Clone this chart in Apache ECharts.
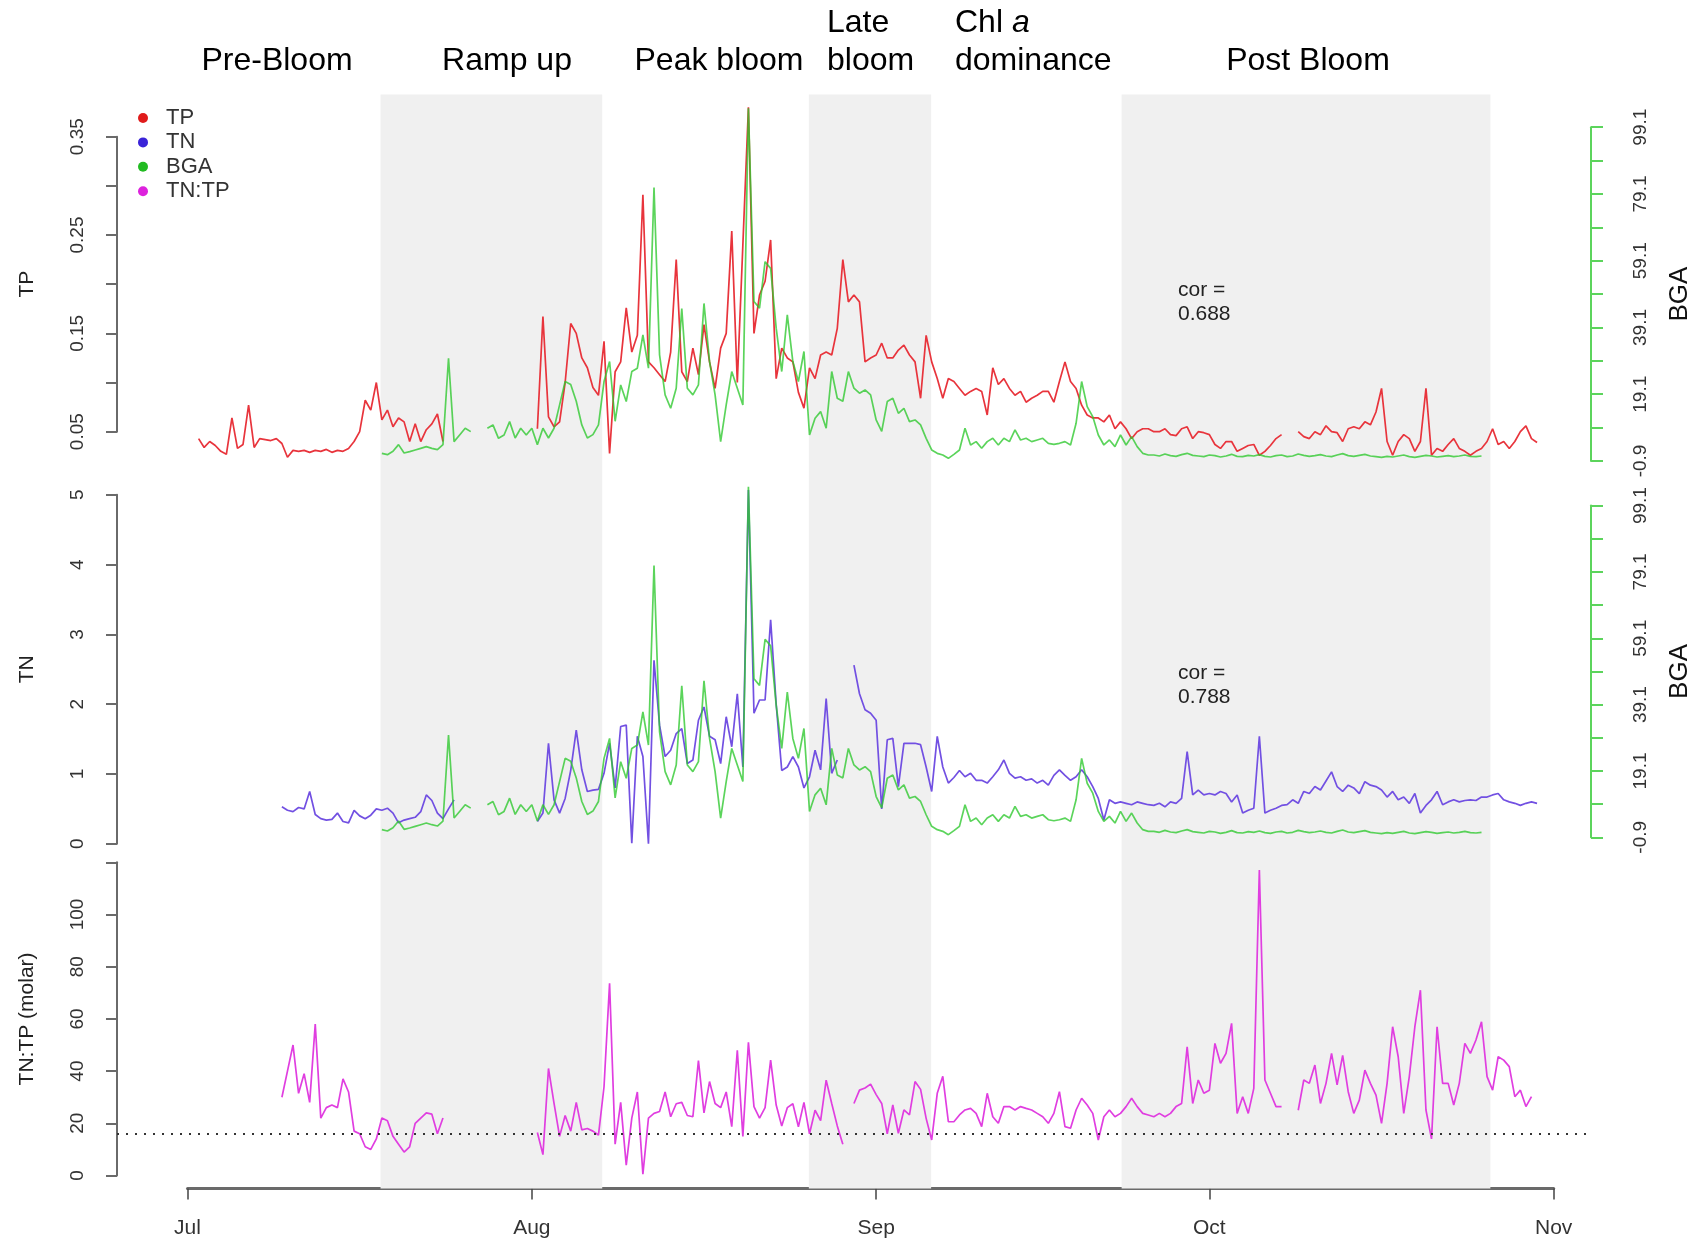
<!DOCTYPE html>
<html>
<head>
<meta charset="utf-8">
<script src="https://cdn.jsdelivr.net/npm/echarts@6/dist/echarts.min.js"></script>
<style>
  html, body { margin: 0; padding: 0; background: #ffffff; }
  #chart { width: 1705px; height: 1242px; }
</style>
</head>
<body>
<div id="chart"></div>
<script>
// ---------------------------------------------------------------
// Data: one value every 12 hours, x = days since 1 July (00:00).
// Each series starts at its *_START day; null marks a data gap.
// ---------------------------------------------------------------
const STEP_DAYS = 0.5;

const MONTH_TICKS = [0, 31, 62, 92, 123];
const MONTH_LABELS = ['Jul', 'Aug', 'Sep', 'Oct', 'Nov'];

// Bloom phases (day ranges that are shaded)
const SHADED_PERIODS = [[17.38, 37.34], [55.94, 66.95], [84.1, 117.3]];

// Total phosphorus
const TP_START = 1;
const TP = [
  0.043,0.034,0.040,0.036,0.030,0.027,0.064,0.033,0.037,0.077,
  0.034,0.043,0.042,0.041,0.043,0.038,0.024,0.031,0.030,0.031,
  0.029,0.031,0.030,0.032,0.029,0.031,0.030,0.033,0.040,0.050,
  0.082,0.072,0.100,0.062,0.072,0.055,0.064,0.060,0.040,0.058,
  0.040,0.052,0.058,0.068,0.040,null,null,null,null,null,
  null,null,null,null,null,null,null,null,null,null,
  null,0.053,0.167,0.065,0.055,0.060,0.100,0.160,0.150,0.125,
  0.115,0.095,0.087,0.142,0.028,0.111,0.121,0.176,0.131,0.148,
  0.291,0.121,0.115,0.108,0.101,0.131,0.225,0.111,0.101,0.135,
  0.108,0.159,0.121,0.094,0.135,0.150,0.254,0.100,0.240,0.380,
  0.150,0.189,0.203,0.245,0.104,0.135,0.125,0.121,0.090,0.074,
  0.115,0.104,0.128,0.131,0.128,0.155,0.225,0.182,0.189,0.182,
  0.121,0.125,0.128,0.140,0.125,0.125,0.133,0.138,0.128,0.121,
  0.084,0.148,0.121,0.104,0.084,0.104,0.101,0.094,0.087,0.091,
  0.094,0.091,0.067,0.115,0.098,0.104,0.094,0.087,0.091,0.080,
  0.084,0.087,0.091,0.091,0.080,0.101,0.121,0.101,0.094,0.077,
  0.067,0.064,0.064,0.060,0.067,0.053,0.060,0.053,0.043,0.050,
  0.053,0.053,0.050,0.050,0.053,0.047,0.046,0.053,0.055,0.043,
  0.050,0.049,0.047,0.037,0.033,0.040,0.040,0.030,0.033,0.036,
  0.037,0.026,0.030,0.036,0.043,0.047,null,null,0.050,0.045,
  0.043,0.050,0.047,0.056,0.050,0.049,0.040,0.053,0.055,0.053,
  0.060,0.057,0.070,0.094,0.040,0.026,0.040,0.047,0.043,0.030,
  0.040,0.094,0.026,0.033,0.030,0.037,0.043,0.033,0.030,0.026,
  0.030,0.033,0.040,0.053,0.037,0.040,0.033,0.040,0.050,0.056,
  0.043,0.039
];

// Total nitrogen
const TN_START = 8;
const TN = [
  null,0.53,0.48,0.46,0.52,0.50,0.75,0.42,0.36,0.34,
  0.35,0.44,0.32,0.30,0.48,0.40,0.36,0.41,0.50,0.48,
  0.51,0.44,0.30,0.34,0.36,0.38,0.46,0.70,0.62,0.44,
  0.36,0.50,0.63,null,null,null,null,null,null,null,
  null,null,null,null,null,null,null,0.32,0.44,1.44,
  0.63,0.44,0.65,1.05,1.63,1.06,0.75,0.77,0.78,1.01,
  1.44,0.80,1.68,1.70,0.01,1.54,1.25,0.00,2.63,1.70,
  1.25,1.34,1.58,1.65,1.15,1.20,1.77,1.96,1.54,1.49,
  1.15,1.82,1.39,2.15,1.10,5.07,1.87,2.06,2.06,3.21,
  2.00,1.05,1.10,1.25,1.10,0.80,0.96,1.34,1.06,2.08,
  1.01,1.20,null,null,2.56,2.15,1.92,1.87,1.77,0.50,
  1.49,1.51,0.82,1.44,1.44,1.44,1.42,1.10,0.75,1.54,
  1.10,0.87,0.95,1.05,0.96,1.01,0.91,0.91,0.87,0.96,
  1.06,1.20,1.01,0.94,0.96,0.91,0.93,0.87,0.91,0.84,
  0.98,1.06,0.98,0.91,0.96,1.06,0.96,0.82,0.65,0.34,
  0.63,0.58,0.60,0.58,0.56,0.60,0.58,0.56,0.55,0.58,
  0.53,0.60,0.58,0.65,1.32,0.70,0.77,0.70,0.72,0.70,
  0.75,0.72,0.60,0.70,0.44,0.48,0.51,1.54,0.44,0.48,
  0.51,0.55,0.56,0.63,0.58,0.75,0.72,0.82,0.77,0.90,
  1.03,0.82,0.75,0.84,0.80,0.72,0.89,0.84,0.82,0.77,
  0.67,0.75,0.63,0.67,0.58,0.72,0.44,0.55,0.63,0.75,
  0.56,0.60,0.63,0.60,0.62,0.63,0.62,0.67,0.67,0.70,
  0.72,0.63,0.60,0.58,0.55,0.58,0.60,0.58
];

// Blue-green algae (phycocyanin sensor)
const BGA_START = 17;
const BGA = [
  null,1.4,1.0,2.0,4.0,1.5,1.9,2.4,2.9,3.4,
  2.9,2.5,4.0,29.9,4.9,6.9,8.9,7.9,null,null,
  8.9,9.9,5.9,6.9,10.9,6.0,8.9,6.9,8.9,4.0,
  8.9,6.0,8.9,15.9,22.9,22.0,17.0,9.9,6.0,7.0,
  9.9,22.9,28.9,11.0,21.9,16.9,25.9,26.9,36.9,26.9,
  81.0,30.9,18.9,14.9,20.9,44.8,20.9,18.9,21.9,46.3,
  28.9,18.9,4.9,15.9,25.9,20.9,15.9,104.8,46.9,44.9,
  58.8,56.8,38.9,25.9,42.9,28.9,22.9,31.9,6.9,11.9,
  13.9,8.9,25.9,17.9,17.0,25.9,20.9,19.4,20.4,18.9,
  11.4,8.0,16.9,17.9,13.4,14.9,10.9,11.4,9.9,5.9,
  2.4,1.4,0.9,-0.1,1.1,2.4,8.9,3.9,4.9,2.9,
  4.9,5.9,3.9,5.9,4.9,8.4,5.4,5.9,4.9,5.4,
  5.9,4.4,4.1,4.4,4.9,3.9,10.4,22.9,15.4,12.4,
  6.9,3.9,5.4,3.4,6.9,3.9,6.4,3.4,1.4,0.9,
  0.9,0.6,1.2,0.7,0.5,1.0,1.4,0.8,0.6,0.4,
  0.9,0.7,0.3,0.6,1.1,0.5,0.4,0.8,0.6,1.0,
  0.5,0.3,0.7,0.9,0.4,0.6,1.2,0.8,0.5,0.7,
  1.0,0.6,0.4,0.9,1.3,0.7,0.5,0.8,1.1,0.6,
  0.4,0.2,0.5,0.3,0.6,0.9,0.4,0.2,0.5,0.8,
  0.6,0.3,0.5,0.7,0.4,0.6,0.9,0.5,0.4,0.6
];

// Molar TN:TP ratio
const RATIO_START = 8;
const TN_TP = [
  null,30.0,40.0,50.0,31.5,39.0,28.0,58.0,22.0,26.0,
  27.0,26.0,37.0,32.0,17.0,16.0,11.0,10.0,14.0,22.0,
  21.0,15.0,12.0,9.0,11.0,20.0,22.0,24.0,23.5,16.0,
  22.0,null,null,null,null,null,null,null,null,null,
  null,null,null,null,null,null,null,16.5,8.0,41.0,
  27.6,15.0,23.0,17.0,28.0,17.5,18.0,17.0,15.5,34.0,
  73.6,12.0,28.0,4.0,22.0,32.0,0.5,22.0,23.8,24.5,
  32.0,22.5,27.5,28.0,23.0,22.5,44.0,24.0,36.0,27.6,
  26.0,32.0,18.7,48.0,15.0,51.0,26.4,22.0,26.0,44.2,
  27.0,19.0,26.0,27.5,18.7,28.0,16.0,25.0,21.0,36.5,
  27.6,19.0,12.0,null,27.6,32.7,33.5,35.0,31.0,27.6,
  16.0,27.0,16.2,25.1,23.2,36.0,33.0,21.9,13.6,31.5,
  38.0,20.6,20.6,23.2,25.1,25.7,23.8,18.7,31.5,22.5,
  20.0,26.4,26.4,25.1,26.4,25.7,25.1,23.8,22.5,20.0,
  23.8,32.1,18.7,18.1,25.1,29.6,27.0,23.8,13.6,22.5,
  25.1,22.5,23.8,26.4,29.6,26.4,23.8,23.2,22.5,23.8,
  22.5,23.8,26.4,27.6,49.3,27.6,36.6,31.5,32.7,50.6,
  43.0,46.8,58.3,23.8,30.2,23.8,33.4,117.0,36.6,31.5,
  26.4,26.4,null,null,25.0,36.6,35.3,42.3,27.6,35.3,
  46.8,34.7,46.0,32.1,23.8,28.9,40.4,35.3,30.8,20.0,
  35.3,57.0,45.5,23.8,37.9,57.0,71.0,25.1,14.0,57.0,
  35.3,35.3,27.0,35.3,50.6,46.8,51.9,58.9,37.9,32.7,
  45.5,44.2,41.7,30.2,32.7,26.4,30.2
];

// Axis ticks and labels
const TP_TICKS = [0.05, 0.10, 0.15, 0.20, 0.25, 0.30, 0.35];
const TP_LABELS = [0.05, 0.15, 0.25, 0.35];
const TN_TICKS = [0, 1, 2, 3, 4, 5];
const TN_LABELS = [0, 1, 2, 3, 4, 5];
const RATIO_TICKS = [0, 20, 40, 60, 80, 100, 120];
const RATIO_LABELS = [0, 20, 40, 60, 80, 100];
const BGA_TICKS = [-0.9, 9.1, 19.1, 29.1, 39.1, 49.1, 59.1, 69.1, 79.1, 89.1, 99.1];
const BGA_LABELS = [-0.9, 19.1, 39.1, 59.1, 79.1, 99.1];
const REDFIELD_RATIO = 16;
const COR_TP_BGA = '0.688';
const COR_TN_BGA = '0.788';

// ---------------------------------------------------------------
// Layout
// ---------------------------------------------------------------
const W = 1705;
const FONT = '"Liberation Sans", Arial, Helvetica, sans-serif';
const PLOT_L = 117, PLOT_R = 1591;          // plot region (y axes sit here)
const DATE_L = 187.5, DATE_R = 1553.7;      // 1 Jul .. 1 Nov on the date axis
const PX_PER_DAY = (DATE_R - DATE_L) / MONTH_TICKS[MONTH_TICKS.length - 1];
const X_MIN = -(DATE_L - PLOT_L) / PX_PER_DAY;
const X_MAX = MONTH_TICKS[MONTH_TICKS.length - 1] + (PLOT_R - DATE_R) / PX_PER_DAY;

const COL_TP = '#e8343c';
const COL_TN = '#7250e2';
const COL_BGA = 'rgba(45,200,45,0.78)';
const COL_BGA_AXIS = '#5cd45c';
const COL_RATIO = '#e03ee0';
const AXIS_GRAY = '#6a6a6a';

function pairs(start, values) {
  return values.map((v, i) => [start + i * STEP_DAYS, v]);
}

function panelGrid(top, bottom) {
  return { left: PLOT_L, right: W - PLOT_R, top: top, height: bottom - top };
}

function hiddenX(gridIndex) {
  return { gridIndex: gridIndex, type: 'value', min: X_MIN, max: X_MAX, show: false };
}

function leftAxis(gridIndex, min, max, ticks, labels, digits, name) {
  return {
    gridIndex: gridIndex, type: 'value', position: 'left', min: min, max: max,
    splitLine: { show: false },
    axisLine: { show: true, onZero: false, lineStyle: { color: AXIS_GRAY, width: 2 } },
    axisTick: { show: true, customValues: ticks, length: 11, lineStyle: { color: AXIS_GRAY, width: 2 } },
    axisLabel: {
      customValues: labels, rotate: 90, margin: 30, fontSize: 19, fontFamily: FONT, color: '#333',
      formatter: v => Number(v).toFixed(digits)
    },
    name: name, nameLocation: 'middle', nameGap: 79,
    nameTextStyle: { fontSize: 21, fontFamily: FONT, color: '#222' }
  };
}

function bgaAxis(gridIndex) {
  return {
    gridIndex: gridIndex, type: 'value', position: 'right', min: -0.9, max: 99.1,
    splitLine: { show: false },
    axisLine: { show: true, onZero: false, lineStyle: { color: COL_BGA_AXIS, width: 2 } },
    axisTick: { show: true, customValues: BGA_TICKS, length: 12, lineStyle: { color: COL_BGA_AXIS, width: 2 } },
    axisLabel: {
      customValues: BGA_LABELS, rotate: 90, margin: 40, fontSize: 19, fontFamily: FONT, color: '#333',
      formatter: v => Number(v).toFixed(1)
    },
    name: 'BGA', nameLocation: 'middle', nameGap: 76,
    nameTextStyle: { fontSize: 26, fontFamily: FONT, color: '#111' }
  };
}

function lineSeries(name, xi, yi, start, values, color, z) {
  return {
    name: name, type: 'line', xAxisIndex: xi, yAxisIndex: yi,
    data: pairs(start, values), showSymbol: false, symbol: 'none',
    clip: false, connectNulls: false, z: z, silent: true,
    lineStyle: { color: color, width: 1.7 }, itemStyle: { color: color }
  };
}

const textStyle = (size) => ({ font: size + 'px ' + FONT, fill: '#000' });

const option = {
  backgroundColor: '#ffffff',
  animation: false,
  grid: [
    panelGrid(94.6, 1188.5),   // 0: phase shading, full height (drawn over the date axis line)
    panelGrid(136.7, 431.7),   // 1: TP
    panelGrid(127.2, 461.0),   // 2: BGA (top)
    panelGrid(494.8, 843.8),   // 3: TN
    panelGrid(505.6, 837.3),   // 4: BGA (middle)
    panelGrid(862.3, 1175.5),  // 5: TN:TP
    { left: DATE_L, right: W - DATE_R, top: 1150, height: 38.5 }  // 6: date axis
  ],
  xAxis: [
    hiddenX(0), hiddenX(1), hiddenX(2), hiddenX(3), hiddenX(4), hiddenX(5),
    {
      gridIndex: 6, type: 'value', min: MONTH_TICKS[0], max: MONTH_TICKS[MONTH_TICKS.length - 1],
      position: 'bottom', splitLine: { show: false }, z: 0,
      axisLine: { show: true, onZero: false, lineStyle: { color: AXIS_GRAY, width: 3 } },
      axisTick: { show: true, customValues: MONTH_TICKS, length: 11, lineStyle: { color: '#444', width: 1.5 } },
      axisLabel: {
        customValues: MONTH_TICKS, margin: 29, fontSize: 21, fontFamily: FONT, color: '#333',
        formatter: v => MONTH_LABELS[MONTH_TICKS.indexOf(Math.round(v))] || ''
      }
    }
  ],
  yAxis: [
    { gridIndex: 0, type: 'value', min: 0, max: 1, show: false },
    leftAxis(1, 0.05, 0.35, TP_TICKS, TP_LABELS, 2, 'TP'),
    bgaAxis(2),
    leftAxis(3, 0, 5, TN_TICKS, TN_LABELS, 0, 'TN'),
    bgaAxis(4),
    leftAxis(5, 0, 120, RATIO_TICKS, RATIO_LABELS, 0, 'TN:TP (molar)'),
    { gridIndex: 6, type: 'value', min: 0, max: 1, show: false }
  ],
  legend: {
    orient: 'vertical', left: 133, top: 102, icon: 'circle',
    itemWidth: 10, itemHeight: 10, itemGap: 2.4, selectedMode: false,
    textStyle: { fontSize: 22, fontFamily: FONT, color: '#333', padding: [0, 0, 0, 13] },
    data: [
      { name: 'TP', itemStyle: { color: '#e01b1b' } },
      { name: 'TN', itemStyle: { color: '#3a23d8' } },
      { name: 'BGA', itemStyle: { color: '#22bb22' } },
      { name: 'TN:TP', itemStyle: { color: '#dd22dd' } }
    ]
  },
  series: [
    {
      type: 'line', xAxisIndex: 0, yAxisIndex: 0, data: [], silent: true, z: 1,
      markArea: {
        silent: true, itemStyle: { color: '#f0f0f0' },
        data: SHADED_PERIODS.map(p => [{ xAxis: p[0] }, { xAxis: p[1] }])
      }
    },
    lineSeries('TP', 1, 1, TP_START, TP, COL_TP, 3),
    lineSeries('BGA', 2, 2, BGA_START, BGA, COL_BGA, 4),
    lineSeries('TN', 3, 3, TN_START, TN, COL_TN, 3),
    lineSeries('BGA', 4, 4, BGA_START, BGA, COL_BGA, 4),
    Object.assign(lineSeries('TN:TP', 5, 5, RATIO_START, TN_TP, COL_RATIO, 3), {
      markLine: {
        silent: true, symbol: 'none', label: { show: false },
        lineStyle: { type: [2, 7], color: '#333', width: 2 },
        data: [{ yAxis: REDFIELD_RATIO }]
      }
    })
  ],
  graphic: [
    { type: 'text', x: 277, y: 61, z: 10, style: Object.assign(textStyle(32), { text: 'Pre-Bloom', textAlign: 'center', textVerticalAlign: 'middle' }) },
    { type: 'text', x: 507, y: 61, z: 10, style: Object.assign(textStyle(32), { text: 'Ramp up', textAlign: 'center', textVerticalAlign: 'middle' }) },
    { type: 'text', x: 719, y: 61, z: 10, style: Object.assign(textStyle(32), { text: 'Peak bloom', textAlign: 'center', textVerticalAlign: 'middle' }) },
    { type: 'text', x: 827, y: 23, z: 10, style: Object.assign(textStyle(32), { text: 'Late', textAlign: 'left', textVerticalAlign: 'middle' }) },
    { type: 'text', x: 827, y: 61, z: 10, style: Object.assign(textStyle(32), { text: 'bloom', textAlign: 'left', textVerticalAlign: 'middle' }) },
    { type: 'text', x: 955, y: 23, z: 10, style: Object.assign(textStyle(32), {
        text: 'Chl {it|a}', textAlign: 'left', textVerticalAlign: 'middle',
        rich: { it: { fontStyle: 'italic', fontSize: 32, fontFamily: FONT, fill: '#000' } } }) },
    { type: 'text', x: 955, y: 61, z: 10, style: Object.assign(textStyle(32), { text: 'dominance', textAlign: 'left', textVerticalAlign: 'middle' }) },
    { type: 'text', x: 1308, y: 61, z: 10, style: Object.assign(textStyle(32), { text: 'Post Bloom', textAlign: 'center', textVerticalAlign: 'middle' }) },
    { type: 'text', x: 1178, y: 290, z: 10, style: { text: 'cor =', font: '21px ' + FONT, fill: '#222', textVerticalAlign: 'middle' } },
    { type: 'text', x: 1178, y: 314, z: 10, style: { text: COR_TP_BGA, font: '21px ' + FONT, fill: '#222', textVerticalAlign: 'middle' } },
    { type: 'text', x: 1178, y: 673, z: 10, style: { text: 'cor =', font: '21px ' + FONT, fill: '#222', textVerticalAlign: 'middle' } },
    { type: 'text', x: 1178, y: 697, z: 10, style: { text: COR_TN_BGA, font: '21px ' + FONT, fill: '#222', textVerticalAlign: 'middle' } }
  ]
};

const chart = echarts.init(document.getElementById('chart'), null, { renderer: 'canvas' });
chart.setOption(option);
</script>
</body>
</html>
